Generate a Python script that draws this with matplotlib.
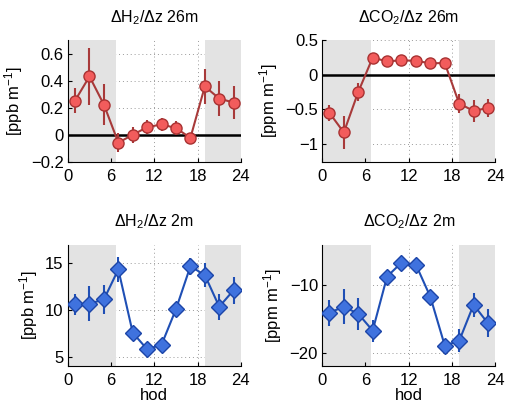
import matplotlib
matplotlib.use("Agg")
import matplotlib.pyplot as plt
import numpy as np

plt.rcParams['font.family'] = ['Liberation Sans', 'DejaVu Sans']
plt.rcParams['mathtext.fontset'] = 'custom'
plt.rcParams['mathtext.rm'] = 'Liberation Sans'
plt.rcParams['mathtext.it'] = 'Liberation Sans'

hours = [1, 3, 5, 7, 9, 11, 13, 15, 17, 19, 21, 23]

h2_26 = [0.253, 0.431, 0.223, -0.057, 0.0, 0.057, 0.077, 0.05, -0.022, 0.357, 0.268, 0.238]
h2_26_err = [0.095, 0.21, 0.15, 0.07, 0.06, 0.05, 0.045, 0.05, 0.02, 0.13, 0.13, 0.12]

co2_26 = [-0.551, -0.834, -0.25, 0.245, 0.192, 0.206, 0.2, 0.163, 0.168, -0.417, -0.523, -0.48]
co2_26_err = [0.12, 0.24, 0.13, 0.03, 0.02, 0.02, 0.02, 0.02, 0.02, 0.14, 0.16, 0.13]

h2_2 = [10.6, 10.68, 11.14, 14.36, 7.57, 5.79, 6.29, 10.1, 14.7, 13.75, 10.36, 12.14]
h2_2_err = [1.15, 1.85, 1.6, 1.35, 0.65, 0.4, 0.5, 0.8, 0.9, 1.3, 1.4, 1.45]

co2_2 = [-14.09, -13.2, -14.24, -16.75, -8.72, -6.65, -6.95, -11.72, -18.96, -18.28, -12.9, -15.67]
co2_2_err = [1.9, 2.6, 2.4, 1.65, 0.8, 0.7, 0.6, 1.0, 1.0, 1.7, 1.8, 2.1]

titles = ['ΔH$_2$/Δz 26m', 'ΔCO$_2$/Δz 26m', 'ΔH$_2$/Δz 2m', 'ΔCO$_2$/Δz 2m']
ylabels = ['[ppb m$^{-1}$]', '[ppm m$^{-1}$]', '[ppb m$^{-1}$]', '[ppm m$^{-1}$]']
xticks = [0, 6, 12, 18, 24]

fig = plt.figure(figsize=(5.18, 4.08), dpi=100)

positions = [
    [0.131, 0.603, 0.334, 0.299],
    [0.622, 0.603, 0.334, 0.299],
    [0.131, 0.103, 0.334, 0.297],
    [0.622, 0.103, 0.334, 0.297],
]

specs = [
    dict(y=h2_26, e=h2_26_err, ylim=(-0.2, 0.7), yticks=[-0.2, 0, 0.2, 0.4, 0.6],
         yticklabels=['\u22120.2', '0', '0.2', '0.4', '0.6'], kind='red', zero=True),
    dict(y=co2_26, e=co2_26_err, ylim=(-1.26, 0.5), yticks=[-1, -0.5, 0, 0.5],
         yticklabels=['\u22121', '\u22120.5', '0', '0.5'], kind='red', zero=True),
    dict(y=h2_2, e=h2_2_err, ylim=(4, 17), yticks=[5, 10, 15],
         yticklabels=['5', '10', '15'], kind='blue', zero=False),
    dict(y=co2_2, e=co2_2_err, ylim=(-22, -4), yticks=[-20, -10],
         yticklabels=['\u221220', '\u221210'], kind='blue', zero=False),
]

for i, (pos, sp) in enumerate(zip(positions, specs)):
    ax = fig.add_axes(pos)
    ax.set_xlim(0, 24)
    ax.set_ylim(*sp['ylim'])
    # grid
    for yt in sp['yticks']:
        ax.axhline(yt, color='#999999', lw=0.7, ls=(0, (1, 3)), zorder=0)
    for xt in [6, 12, 18, 24]:
        ax.axvline(xt, color='#999999', lw=0.7, ls=(0, (1, 3)), zorder=0)
    # night shading
    ax.axvspan(0, 6.72, color='#e3e3e3', lw=0, zorder=1)
    ax.axvspan(19.03, 24, color='#e3e3e3', lw=0, zorder=1)
    ax.axvline(24, color='#aaaaaa', lw=0.7, ls=(0, (1, 3)), zorder=1.5)
    if sp['zero']:
        ax.axhline(0, color='black', lw=1.8, zorder=2)
    if sp['kind'] == 'red':
        lc, fc, ec, mk, ms = '#a83a3a', '#f25c5c', '#a83232', 'o', 8
    else:
        lc, fc, ec, mk, ms = '#1f4fb5', '#3f72de', '#1c45a8', 'D', 8.5
    ax.errorbar(hours, sp['y'], yerr=sp['e'], color=lc, lw=1.5, elinewidth=1.5,
                capsize=0, marker=mk, markersize=ms, markerfacecolor=fc,
                markeredgecolor=ec, markeredgewidth=1.0, zorder=3)
    ax.set_xticks(xticks)
    ax.set_xticklabels([str(x) for x in xticks])
    ax.set_yticks(sp['yticks'])
    ax.set_yticklabels(sp['yticklabels'])
    ax.tick_params(direction='in', length=3, labelsize=12)
    ax.tick_params(axis='x', pad=5)
    ax.tick_params(axis='y', pad=3)
    ax.spines['top'].set_visible(False)
    ax.spines['right'].set_visible(False)
    ax.spines['left'].set_linewidth(0.8)
    ax.spines['bottom'].set_linewidth(0.8)
    ax.set_title(titles[i], fontsize=11.5, pad=13)
    ax.set_ylabel(ylabels[i], fontsize=12, labelpad=4)
    if i >= 2:
        ax.set_xlabel('hod', fontsize=12, labelpad=0)

fig.savefig('out.png', dpi=100)
